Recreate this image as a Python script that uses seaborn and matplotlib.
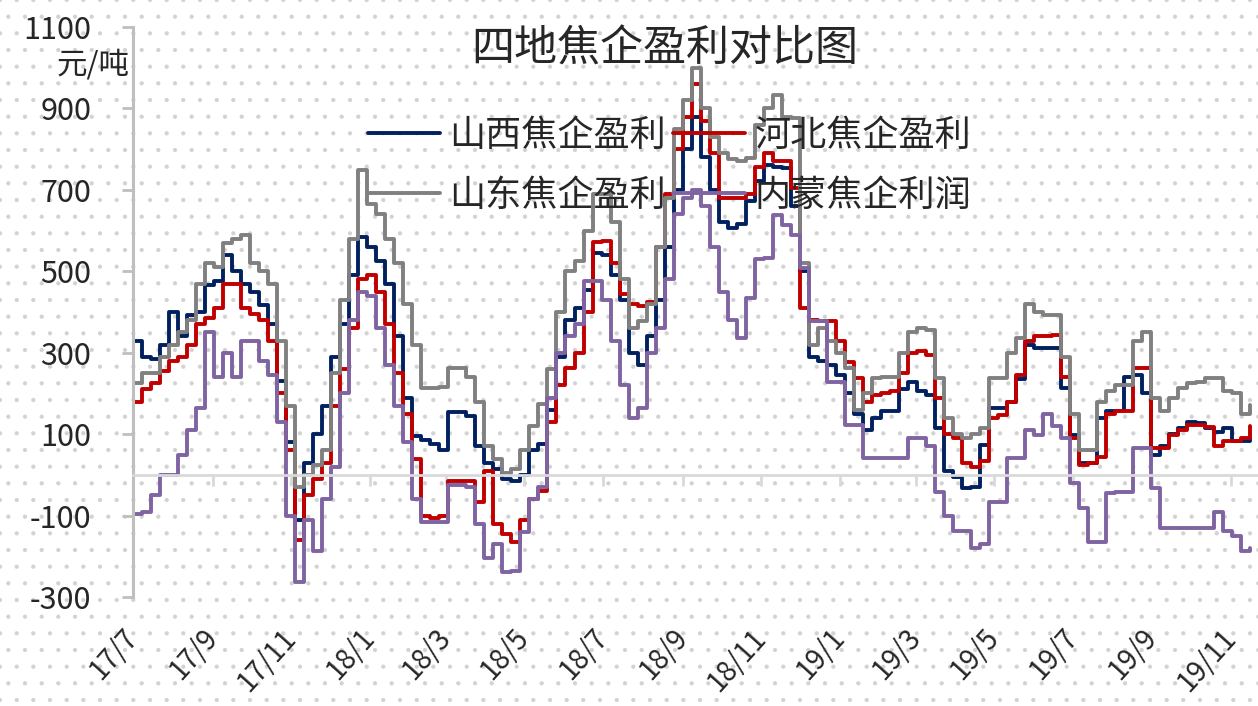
import numpy as np
import pandas as pd
import matplotlib.pyplot as plt
import matplotlib.dates as mdates
from matplotlib.patches import Rectangle
import seaborn as sns

sns.set_style("white")
plt.rcParams['font.family'] = ['Noto Sans CJK SC', 'DejaVu Sans']
plt.rcParams['axes.unicode_minus'] = False
plt.rcParams['hatch.linewidth'] = 0.6

# weekly readings, first week starts 2017-07-01
start_date = "2017-07-01"

shanxi = [330, 290, 285, 320, 400, 340, 393, 400, 467, 475, 540, 500, 470, 450, 418, 370, 230, 80, -110, 30, 100,
          170, 290, 370, 490, 585, 560, 525, 470, 340, 190, 95, 85, 75, 60, 155, 155, 145, 70, 30, 15, -10, -15,
          0, 60, 75, 160, 290, 380, 410, 455, 545, 540, 490, 430, 300, 270, 340, 430, 560, 700, 800, 880, 780,
          700, 620, 606, 615, 672, 721, 762, 755, 753, 660, 500, 290, 280, 270, 246, 200, 150, 110, 140, 156,
          156, 210, 229, 205, 197, 115, 10, -5, -33, -30, 74, 164, 164, 180, 235, 320, 311, 311, 311, 213,
          98, 30, 30, 139, 156, 156, 240, 246, 200, 49, 70, 100, 115, 131, 128, 115, 106, 115, 82, 82, 88]

hebei = [180, 210, 225, 255, 280, 290, 320, 370, 385, 410, 470, 470, 410, 395, 380, 330, 200, 60, -160, -50, -10,
         30, 170, 260, 360, 480, 490, 450, 370, 250, 150, 40, -100, -106, -100, -16, -16, -16, -66, 10, -120, -145, -165,
         -110, -60, -40, 130, 220, 262, 300, 400, 573, 575, 520, 445, 420, 415, 425, 560, 690, 800, 880, 960, 870,
         790, 680, 680, 680, 690, 755, 790, 770, 770, 704, 410, 380, 377, 377, 330, 278, 238, 180, 197, 200,
         205, 250, 300, 303, 295, 190, 100, 90, 30, 20, 33, 140, 147, 180, 246, 330, 340, 342, 344, 240,
         90, 25, 30, 45, 150, 156, 156, 262, 262, 66, 66, 98, 110, 123, 123, 118, 70, 82, 82, 90, 120]

shandong = [225, 250, 250, 290, 320, 350, 380, 470, 520, 510, 570, 580, 590, 520, 500, 470, 330, 170, -30, 0, 25,
            60, 250, 430, 580, 750, 665, 640, 580, 520, 420, 320, 213, 213, 215, 262, 262, 240, 180, 70, 40, 5, 15,
            60, 120, 175, 260, 400, 500, 525, 600, 690, 690, 620, 480, 360, 377, 420, 560, 680, 850, 920, 1000, 900,
            830, 790, 775, 770, 778, 860, 900, 934, 880, 876, 520, 320, 360, 330, 300, 262, 160, 200, 238, 240,
            240, 300, 352, 360, 355, 238, 139, 100, 90, 100, 115, 238, 238, 300, 336, 420, 400, 393, 393, 290,
            150, 60, 60, 180, 205, 221, 221, 330, 352, 190, 156, 190, 213, 225, 229, 238, 238, 205, 200, 150, 172]

neimeng = [-95, -90, -50, 0, 0, 50, 110, 165, 350, 240, 300, 240, 330, 330, 280, 246, 130, -100, -262, -110, -188,
           -60, 20, 200, 380, 450, 440, 360, 270, 170, 80, -60, -115, -115, -115, -25, -25, -30, -120, -205, -170, -238, -235,
           -140, -60, -30, 190, 300, 340, 370, 475, 475, 430, 330, 220, 140, 164, 300, 360, 480, 640, 680, 700, 660,
           560, 450, 380, 336, 434, 530, 532, 639, 614, 590, 508, 377, 377, 229, 229, 123, 123, 41, 41, 41,
           41, 41, 90, 90, 70, -41, -100, -139, -139, -180, -170, -66, -66, 41, 41, 110, 98, 150, 120, 90,
           -20, -82, -164, -164, -45, -41, -41, 66, 66, -33, -131, -131, -131, -131, -131, -131, -90, -139, -150, -188, -180]

series_names = ["山西焦企盈利", "河北焦企盈利", "山东焦企盈利", "内蒙焦企利润"]
series_colors = ["#002060", "#C00000", "#808080", "#8064A2"]
tick_labels = ["17/7", "17/9", "17/11", "18/1", "18/3", "18/5", "18/7", "18/9",
               "18/11", "19/1", "19/3", "19/5", "19/7", "19/9", "19/11"]
y_ticks = list(range(-300, 1101, 200))

dates = pd.date_range(start_date, periods=len(shanxi), freq="7D")
df = pd.DataFrame({"date": dates, series_names[0]: shanxi, series_names[1]: hebei,
                   series_names[2]: shandong, series_names[3]: neimeng})
df = df.melt(id_vars="date", var_name="series", value_name="value")

fig = plt.figure(figsize=(12.58, 7.06), dpi=100)
# dotted background like the excel pattern fill
bg = Rectangle((0, 0), 1, 1, transform=fig.transFigure, facecolor="white",
               edgecolor="#d2d2d2", hatch=".", linewidth=0, zorder=-10)
fig.add_artist(bg)

ax = fig.add_axes([133 / 1258, 1 - 597 / 706, 1 - 133 / 1258, 570 / 706])
ax.patch.set_visible(False)

for name, color in zip(series_names, series_colors):
    sub = df[df["series"] == name]
    sns.lineplot(data=sub, x="date", y="value", color=color, linewidth=2.8,
                 drawstyle="steps-post", label=name, ax=ax)

ax.set_ylim(-300, 1100)
ax.set_xlim(pd.Timestamp("2017-07-01"), pd.Timestamp("2019-11-22"))
ax.set_xlabel("")
ax.set_ylabel("")

ax.set_yticks(y_ticks)
ax.tick_params(axis="y", left=True, direction="out", length=8, width=2,
               color="#bfbfbf", pad=22, labelsize=22, labelcolor="#262626")

tick_pos = mdates.date2num(pd.date_range(start_date, periods=len(tick_labels), freq="2MS"))
ax.set_xticks(tick_pos)
ax.set_xticklabels([""] * len(tick_pos))
ax.tick_params(axis="x", bottom=True, direction="out", length=8, width=2, color="#d9d9d9")

for s in ["top", "right"]:
    ax.spines[s].set_visible(False)
ax.spines["left"].set_color("#bfbfbf")
ax.spines["left"].set_linewidth(2.2)
ax.spines["bottom"].set_position(("data", 0))
ax.spines["bottom"].set_color("#d9d9d9")
ax.spines["bottom"].set_linewidth(2)

sec = ax.secondary_xaxis("bottom")
sec.set_xticks(tick_pos)
sec.set_xticklabels(tick_labels)
sec.tick_params(axis="x", length=0, pad=26, labelsize=20, labelcolor="#262626")
sec.spines["bottom"].set_visible(False)
for lab in sec.get_xticklabels():
    lab.set_rotation(48)
    lab.set_ha("right")
    lab.set_va("center")
    lab.set_rotation_mode("anchor")

fig.text(665 / 1258, 1 - 50 / 706, "四地焦企盈利对比图", ha="center", va="center",
         fontsize=31, color="#262626")
fig.text(130 / 1258, 1 - 65 / 706, "元/吨", ha="right", va="center",
         fontsize=22, color="#262626")

handles, labels = ax.get_legend_handles_labels()
ax.get_legend().remove()
order = [0, 2, 1, 3]
fig.legend([handles[i] for i in order], [labels[i] for i in order], ncol=2,
           loc="upper left", bbox_to_anchor=(368 / 1258, 1 - 118 / 706),
           frameon=False, fontsize=26, handlelength=2.0, handletextpad=0.25,
           columnspacing=0.2, labelspacing=0.65, borderpad=0, borderaxespad=0,
           labelcolor="#262626")

fig.savefig("out.png", dpi=100)
